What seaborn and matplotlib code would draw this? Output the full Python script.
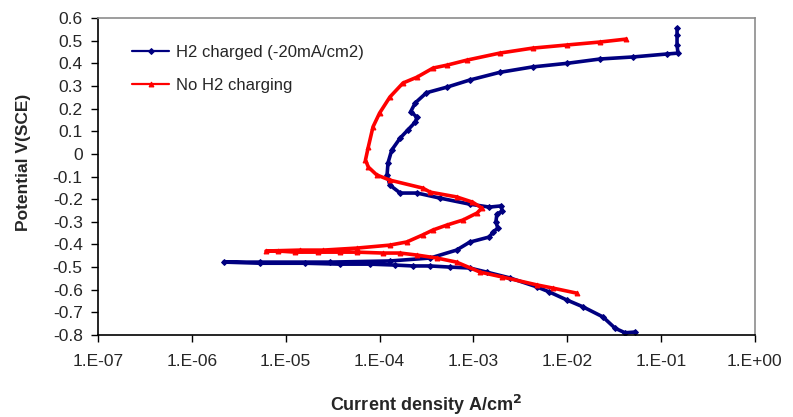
import numpy as np
import pandas as pd
import matplotlib
matplotlib.use("Agg")
import matplotlib.pyplot as plt
import seaborn as sns

# -----------------------
# Data (scan order: cathodic -> anodic)
# -----------------------
# H2 charged (-20mA/cm2): log10 current density, potential V(SCE)
h2_logi = [-1.28, -1.385, -1.49, -1.62, -1.83, -2.0, -2.19, -2.32, -2.61, -2.86,
           -3.04, -3.25, -3.46, -3.64, -3.84, -4.10, -4.42, -4.79, -5.27, -5.66,
           -5.27, -4.53, -3.89, -3.46, -3.18, -3.04, -2.83, -2.79, -2.74, -2.76,
           -2.75, -2.69, -2.71, -2.83, -3.04, -3.36, -3.60, -3.78, -3.89, -3.92,
           -3.91, -3.87, -3.78, -3.70, -3.62, -3.60, -3.67, -3.62, -3.50, -3.28,
           -3.04, -2.72, -2.37, -2.0, -1.65, -1.30, -0.94, -0.82, -0.83, -0.83,
           -0.83]
h2_pot = [-0.787, -0.79, -0.77, -0.72, -0.676, -0.646, -0.61, -0.588, -0.548, -0.522,
          -0.504, -0.50, -0.495, -0.495, -0.491, -0.487, -0.487, -0.483, -0.483, -0.478,
          -0.478, -0.478, -0.473, -0.46, -0.425, -0.39, -0.367, -0.345, -0.328, -0.30,
          -0.266, -0.252, -0.23, -0.235, -0.222, -0.195, -0.173, -0.173, -0.138, -0.093,
          -0.04, 0.017, 0.07, 0.105, 0.14, 0.163, 0.185, 0.225, 0.27, 0.295,
          0.326, 0.36, 0.384, 0.40, 0.419, 0.428, 0.441, 0.445, 0.48, 0.525,
          0.556]

# No H2 charging
no_logi = [-1.90, -2.15, -2.32, -2.69, -2.93, -3.18, -3.39, -3.60, -3.78, -3.96,
           -4.24, -4.42, -4.66, -4.90, -5.08, -5.21, -4.85, -4.60, -4.24, -3.89,
           -3.71, -3.54, -3.43, -3.28, -3.11, -2.96, -2.91, -3.01, -3.18, -3.46,
           -3.54, -3.89, -4.03, -4.12, -4.15, -4.12, -4.07, -4.0, -3.89, -3.75,
           -3.60, -3.43, -3.28, -3.07, -2.72, -2.37, -2.0, -1.65, -1.37]
no_pot = [-0.615, -0.593, -0.579, -0.544, -0.522, -0.478, -0.46, -0.447, -0.438, -0.438,
          -0.434, -0.434, -0.434, -0.434, -0.429, -0.429, -0.425, -0.425, -0.416, -0.403,
          -0.389, -0.358, -0.336, -0.314, -0.292, -0.261, -0.239, -0.213, -0.19, -0.169,
          -0.151, -0.116, -0.093, -0.058, -0.027, 0.03, 0.119, 0.18, 0.251, 0.313,
          0.339, 0.379, 0.392, 0.414, 0.445, 0.467, 0.481, 0.494, 0.507]

x_ticks = [1e-7, 1e-6, 1e-5, 1e-4, 1e-3, 1e-2, 1e-1, 1e0]
x_ticklabels = ["1.E-07", "1.E-06", "1.E-05", "1.E-04", "1.E-03", "1.E-02", "1.E-01", "1.E+00"]
y_ticks = [0.6, 0.5, 0.4, 0.3, 0.2, 0.1, 0, -0.1, -0.2, -0.3, -0.4, -0.5, -0.6, -0.7, -0.8]

df1 = pd.DataFrame({"i": 10 ** np.array(h2_logi), "E": h2_pot})
df2 = pd.DataFrame({"i": 10 ** np.array(no_logi), "E": no_pot})

# -----------------------
# Plot
# -----------------------
sns.set_style("white")
plt.rcParams['font.family'] = ['Liberation Sans', 'DejaVu Sans']

fig = plt.figure(figsize=(7.93, 4.17), dpi=100)
ax = fig.add_axes([0.1236, 0.1966, 0.8284, 0.7602])

sns.lineplot(data=df1, x="i", y="E", sort=False, estimator=None, ax=ax,
             color="#000080", lw=2.6, marker="D", markersize=3, mec="#000080",
             label="H2 charged (-20mA/cm2)")
sns.lineplot(data=df2, x="i", y="E", sort=False, estimator=None, ax=ax,
             color="#ff0000", lw=2.6, marker="^", markersize=3.5, mec="#ff0000",
             label="No H2 charging")

ax.set_xscale("log")
ax.set_xlim(1e-7, 1e0)
ax.set_ylim(-0.8, 0.6)
ax.set_xticks(x_ticks)
ax.set_xticklabels(x_ticklabels)
ax.minorticks_off()
ax.set_yticks(y_ticks)
ax.set_yticklabels([f"{v:g}" for v in y_ticks])
ax.tick_params(axis="both", direction="out", length=5, width=1, labelsize=12.5,
               bottom=True, left=True, color="black")
ax.tick_params(axis="x", pad=9)
ax.tick_params(axis="y", pad=6)

for s in ["left", "bottom"]:
    ax.spines[s].set_color("black")
    ax.spines[s].set_linewidth(1.2)
for s in ["top", "right"]:
    ax.spines[s].set_color("#8c8c8c")
    ax.spines[s].set_linewidth(1.2)

ax.set_xlabel("Current density A/cm$^\\mathbf{2}$", fontsize=13, fontweight="bold", va="center")
ax.xaxis.set_label_coords(0.5, -0.221)
ax.set_ylabel("Potential V(SCE)", fontsize=12.5, fontweight="bold", va="center")
ax.yaxis.set_label_coords(-0.114, 0.546)

leg = ax.legend(frameon=False, loc="upper left", bbox_to_anchor=(0.052, 0.915),
                borderpad=0, borderaxespad=0, labelspacing=1.1, handlelength=2.2,
                handletextpad=0.4, fontsize=12)
for ln in leg.get_lines():
    ln.set_linewidth(1.6)

plt.savefig("out.png", dpi=100)
plt.close()
